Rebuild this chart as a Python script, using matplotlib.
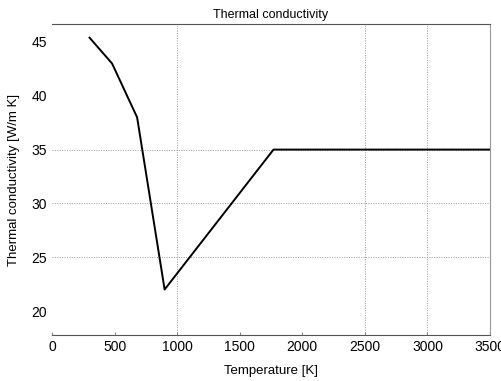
import matplotlib.pyplot as plt

plt.rcParams['font.family'] = ['Liberation Sans', 'DejaVu Sans']

temperature = [300, 480, 680, 900, 1770, 3500]
conductivity = [45.4, 43.0, 38.0, 22.0, 35.0, 35.0]
xticks = [0, 500, 1000, 1500, 2000, 2500, 3000, 3500]
yticks = [20, 25, 30, 35, 40, 45]
# grid lines that actually show up in the original
xgrid = [1000, 2500, 3000]
ygrid = [25, 30, 35]

fig = plt.figure(figsize=(5.02, 3.81), dpi=100)
ax = fig.add_axes([52/502, 1-335/381, 438/502, 311/381])

for g in xgrid:
    ax.axvline(g, color='#999999', lw=0.7, ls=(0, (1, 1.5)), zorder=1)
for g in ygrid:
    ax.axhline(g, color='#999999', lw=0.7, ls=(0, (1, 1.5)), zorder=1)

ax.plot(temperature, conductivity, color='black', lw=1.4, zorder=3)

ax.set_xlim(0, 3500)
ax.set_ylim(17.77, 46.67)
ax.set_xticks(xticks)
ax.set_yticks(yticks)
ax.tick_params(direction='in', length=2, labelsize=10, color='#888888')
ax.tick_params(axis='y', length=0)
ax.spines['left'].set_visible(False)
ax.spines['top'].set_color('#555555')
ax.spines['bottom'].set_color('#555555')
ax.spines['right'].set_color('#999999')

ax.set_title('Thermal conductivity', fontsize=9, pad=4)
ax.set_xlabel('Temperature [K]', fontsize=9.5, labelpad=8)
ax.set_ylabel('Thermal conductivity [W/m K]', fontsize=9.5, labelpad=8)

fig.savefig('out.png', dpi=100)
